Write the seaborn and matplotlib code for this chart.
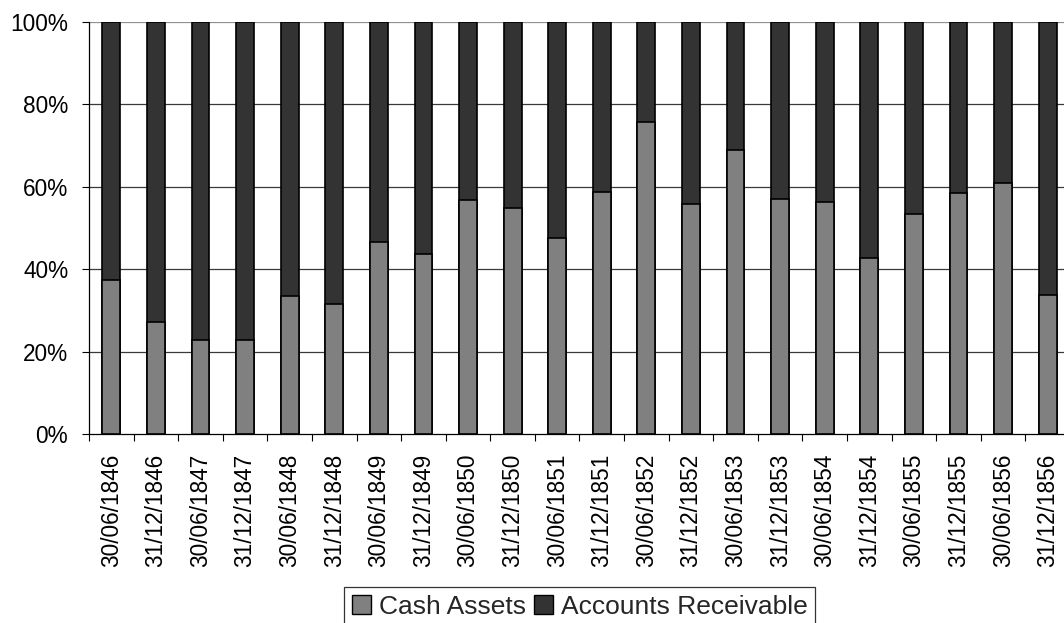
import matplotlib
matplotlib.use("Agg")
import matplotlib.pyplot as plt
from matplotlib.patches import Patch
from matplotlib.ticker import FixedLocator
import numpy as np
import pandas as pd
import seaborn as sns

# Half-yearly balance sheet dates
dates = ["30/06/1846", "31/12/1846", "30/06/1847", "31/12/1847", "30/06/1848",
         "31/12/1848", "30/06/1849", "31/12/1849", "30/06/1850", "31/12/1850",
         "30/06/1851", "31/12/1851", "30/06/1852", "31/12/1852", "30/06/1853",
         "31/12/1853", "30/06/1854", "31/12/1854", "30/06/1855", "31/12/1855",
         "30/06/1856", "31/12/1856"]

# Share of liquid assets (%)
cash_assets = [37.4, 27.1, 22.8, 22.8, 33.5, 31.5, 46.5, 43.6, 56.8, 54.8, 47.6,
               58.7, 75.7, 55.8, 68.9, 57.1, 56.2, 42.6, 53.3, 58.6, 61.0, 33.8]
accounts_receivable = [62.6, 72.9, 77.2, 77.2, 66.5, 68.5, 53.5, 56.4, 43.2, 45.2, 52.4,
                       41.3, 24.3, 44.2, 31.1, 42.9, 43.8, 57.4, 46.7, 41.4, 39.0, 66.2]

y_ticks = [0, 20, 40, 60, 80, 100]
y_tick_labels = ["0%", "20%", "40%", "60%", "80%", "100%"]

df = pd.DataFrame({"date": dates, "cash": cash_assets, "receivable": accounts_receivable})
df["total"] = df["cash"] + df["receivable"]

sns.set_theme(style="white")
plt.rcParams["font.family"] = ["Liberation Sans", "DejaVu Sans"]

W, H = 1064, 623
fig = plt.figure(figsize=(W / 100, H / 100), dpi=100)
left, right, top, bottom = 89, 1070, 22, 434
ax = fig.add_axes([left / W, 1 - bottom / H, (right - left) / W, (bottom - top) / H])

cash_color = "#808080"
recv_color = "#333333"

# Stacked shares: full column in receivable colour, cash share drawn over its base
sns.barplot(data=df, x="date", y="total", color=recv_color, width=0.4,
            edgecolor="black", linewidth=1.2, saturation=1, ax=ax, zorder=3)
sns.barplot(data=df, x="date", y="cash", color=cash_color, width=0.4,
            edgecolor="black", linewidth=1.2, saturation=1, ax=ax, zorder=4)

ax.set_xlim(-0.5, len(dates) - 0.5)
ax.set_ylim(0, 100)
ax.set_xlabel("")
ax.set_ylabel("")

ax.set_yticks(y_ticks)
ax.set_yticklabels(y_tick_labels, fontsize=16.3, color="black")
ax.tick_params(axis="y", which="major", left=True, length=5, width=0.8,
               color="black", pad=10)

ax.set_xticks(range(len(dates)))
ax.set_xticklabels(dates, rotation=90, fontsize=16.3, color="black")
ax.xaxis.set_minor_locator(FixedLocator(np.arange(-0.5, len(dates), 1.0)))
ax.tick_params(axis="x", which="major", length=0, pad=14)
ax.tick_params(axis="x", which="minor", bottom=True, length=5, width=0.8, color="black")

for y in y_ticks[1:]:
    ax.axhline(y, color="#3a3a3a" if y < 100 else "#909090", linewidth=0.9, zorder=1)

for side in ["top", "right"]:
    ax.spines[side].set_visible(False)
for side in ["left", "bottom"]:
    ax.spines[side].set_visible(True)
    ax.spines[side].set_color("black")
    ax.spines[side].set_linewidth(0.9)
ax.grid(False)

handles = [Patch(facecolor=cash_color, edgecolor="black", linewidth=1.0, label="Cash Assets"),
           Patch(facecolor=recv_color, edgecolor="black", linewidth=1.0, label="Accounts Receivable")]
leg = fig.legend(handles=handles, loc="upper left", bbox_to_anchor=(344 / W, 1 - 587 / H),
                 ncol=2, fontsize=19, frameon=True, fancybox=False, borderpad=0.3,
                 handlelength=0.72, handleheight=0.72, handletextpad=0.3, columnspacing=0.3,
                 borderaxespad=0)
leg.get_frame().set_edgecolor("black")
leg.get_frame().set_linewidth(0.9)

fig.savefig("out.png", dpi=100, facecolor="white")
